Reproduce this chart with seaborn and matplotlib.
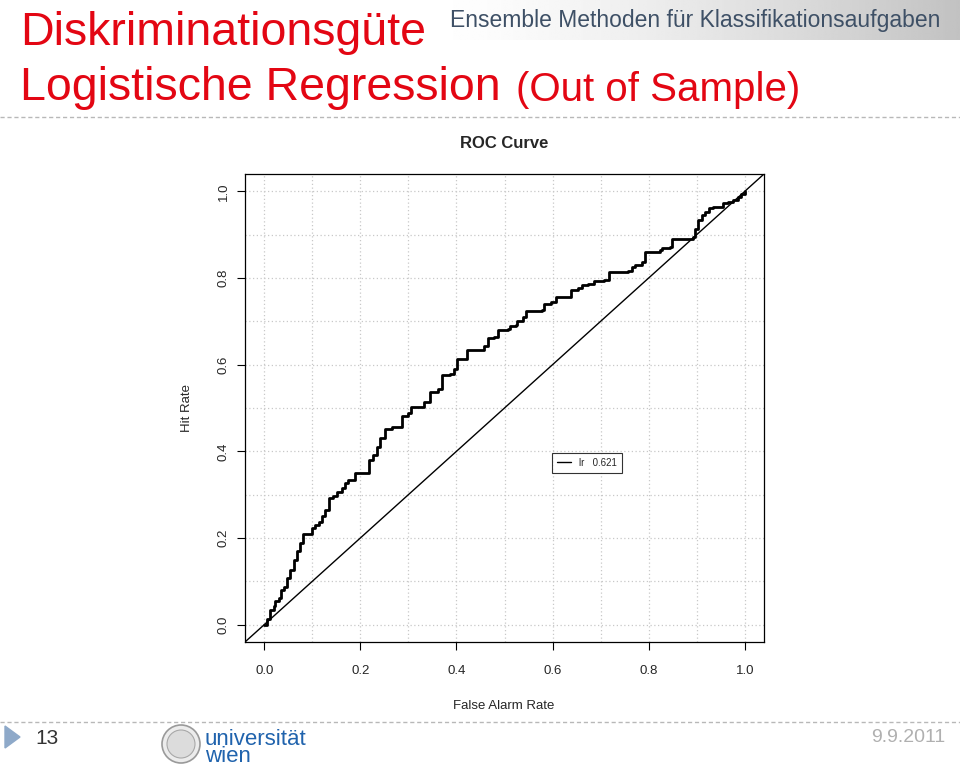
import matplotlib
matplotlib.use("Agg")
import matplotlib.pyplot as plt
import matplotlib.ticker as ticker
from matplotlib.lines import Line2D
from matplotlib.patches import Circle
import numpy as np
import pandas as pd
import seaborn as sns


# ROC curve of the logistic regression
false_alarm = [0.000, 0.006, 0.012, 0.020, 0.023, 0.030, 0.035, 0.041, 0.048, 0.054,
               0.061, 0.068, 0.075, 0.081, 0.093, 0.099, 0.106, 0.113, 0.120, 0.127,
               0.134, 0.144, 0.151, 0.161, 0.168, 0.175, 0.189, 0.215, 0.218, 0.227,
               0.234, 0.241, 0.251, 0.265, 0.282, 0.286, 0.300, 0.306, 0.327, 0.333,
               0.344, 0.361, 0.369, 0.386, 0.395, 0.402, 0.422, 0.448, 0.458, 0.465,
               0.479, 0.486, 0.507, 0.512, 0.524, 0.527, 0.538, 0.545, 0.579, 0.582,
               0.596, 0.607, 0.634, 0.638, 0.652, 0.662, 0.673, 0.686, 0.707, 0.717,
               0.758, 0.765, 0.772, 0.786, 0.793, 0.824, 0.828, 0.845, 0.848, 0.879,
               0.892, 0.896, 0.903, 0.910, 0.917, 0.926, 0.934, 0.955, 0.965, 0.976,
               0.986, 0.993, 1.000]
hit_rate = [0.000, 0.012, 0.035, 0.042, 0.054, 0.062, 0.081, 0.088, 0.108, 0.127,
            0.150, 0.169, 0.188, 0.209, 0.209, 0.223, 0.230, 0.238, 0.250, 0.265,
            0.292, 0.296, 0.307, 0.315, 0.326, 0.334, 0.351, 0.351, 0.380, 0.392,
            0.411, 0.430, 0.452, 0.456, 0.457, 0.482, 0.489, 0.502, 0.503, 0.515,
            0.537, 0.544, 0.576, 0.578, 0.591, 0.613, 0.635, 0.635, 0.643, 0.661,
            0.663, 0.680, 0.682, 0.689, 0.691, 0.700, 0.710, 0.724, 0.726, 0.741,
            0.745, 0.756, 0.757, 0.773, 0.776, 0.783, 0.787, 0.794, 0.795, 0.814,
            0.816, 0.826, 0.831, 0.837, 0.860, 0.864, 0.870, 0.872, 0.889, 0.891,
            0.895, 0.914, 0.933, 0.945, 0.952, 0.962, 0.965, 0.972, 0.975, 0.981,
            0.987, 0.993, 1.000]

model_name = "lr"
auc_value = "0.621"

tick_values = [0.0, 0.2, 0.4, 0.6, 0.8, 1.0]

title_line1 = "Diskriminationsgüte"
title_line2 = "Logistische Regression"
title_suffix = "(Out of Sample)"
header_text = "Ensemble Methoden für Klassifikationsaufgaben"
plot_title = "ROC Curve"
x_label = "False Alarm Rate"
y_label = "Hit Rate"
slide_number = "13"
slide_date = "9.9.2011"

red = "#e30613"

sns.set_style("white")
plt.rcParams["font.family"] = ["Liberation Sans", "DejaVu Sans"]

fig = plt.figure(figsize=(9.6, 7.68), dpi=100)

# slide background, drawn in pixel coordinates
bg = fig.add_axes([0, 0, 1, 1], zorder=0)
bg.set_xlim(0, 960)
bg.set_ylim(768, 0)
bg.axis("off")

t = np.linspace(0, 1, 300)
shade = 1 - 0.24 * t ** 1.4
bg.imshow(shade[np.newaxis, :], cmap="gray", vmin=0, vmax=1, aspect="auto",
          extent=[425, 960, 40, 0], interpolation="bilinear")
bg.text(450, 21, header_text, fontsize=16.5, color="#3e5066", va="center", ha="left")

bg.text(20, 45, title_line1, fontsize=33.5, color=red, va="baseline")
line2 = bg.text(20, 100, title_line2, fontsize=33.5, color=red, va="baseline")
bg.annotate(title_suffix, xy=(1, 0), xycoords=line2, xytext=(11, 1),
            textcoords="offset points", fontsize=29, color=red, va="bottom")

bg.plot([0, 960], [117, 117], color="#b8b8b8", lw=1, ls=(0, (3, 2)))
bg.plot([0, 960], [722, 722], color="#b8b8b8", lw=1, ls=(0, (3, 2)))

# footer
bg.fill([5, 20, 5], [726, 737, 748], color="#8ea9c9")
bg.text(35, 738, slide_number, fontsize=15, color="#333333", va="center")
bg.text(945, 738, slide_date, fontsize=14, color="#b0b0b0", va="center", ha="right")
bg.add_patch(Circle((181, 744), 19, facecolor="#ececec", edgecolor="#9a9a9a", lw=1.2))
bg.add_patch(Circle((181, 744), 14, facecolor="#dcdcdc", edgecolor="#a8a8a8", lw=0.8))
bg.text(205, 762, "universität\nwien", fontsize=16, color="#2063ad", va="baseline",
        linespacing=0.72)

# ROC plot
ax = fig.add_axes([245 / 960, 1 - 642 / 768, 519 / 960, 468 / 768], zorder=1)
ax.set_facecolor("white")

roc = pd.DataFrame({"far": false_alarm, "hit": hit_rate})
sns.lineplot(data=roc, x="far", y="hit", sort=False, estimator=None,
             color="black", lw=2, drawstyle="steps-post", ax=ax)
ax.axline((0, 0), (1, 1), color="black", lw=1)

ax.set_xlim(-0.04, 1.04)
ax.set_ylim(-0.04, 1.04)
ax.set_xticks(tick_values)
ax.set_yticks(tick_values)
ax.set_xticklabels([f"{v:.1f}" for v in tick_values])
ax.set_yticklabels([f"{v:.1f}" for v in tick_values])
ax.xaxis.set_minor_locator(ticker.MultipleLocator(0.1))
ax.yaxis.set_minor_locator(ticker.MultipleLocator(0.1))
ax.set_axisbelow(True)
ax.grid(True, which="both", color="#c8c8c8", lw=0.9, ls=(0, (1, 2)))

ax.tick_params(which="major", direction="out", length=6, width=0.8, color="black",
               labelsize=9.5, bottom=True, left=True)
ax.tick_params(which="minor", length=0)
ax.tick_params(axis="x", pad=10.5)
ax.tick_params(axis="y", pad=5, labelrotation=90)
for lbl in ax.get_yticklabels():
    lbl.set_va("center")

for sp in ax.spines.values():
    sp.set_color("black")
    sp.set_linewidth(0.9)

ax.set_xlabel(x_label, fontsize=9.5)
ax.set_ylabel(y_label, fontsize=9.5)
ax.xaxis.label.set_va("center")
ax.yaxis.label.set_va("center")
ax.xaxis.set_label_coords(0.499, -0.137)
ax.yaxis.set_label_coords(-0.112, 0.5)
ax.set_title(plot_title, fontsize=12, fontweight="bold", y=1.055, pad=0)

leg = ax.legend(handles=[Line2D([0], [0], color="black", lw=1)],
                labels=[f"{model_name}   {auc_value}"],
                loc="upper left", bbox_to_anchor=((552 - 245) / 519, (642 - 453) / 468),
                borderaxespad=0, frameon=True, fancybox=False, edgecolor="black",
                fontsize=7, handlelength=1.5, handletextpad=0.8, borderpad=0.5)
leg.get_frame().set_linewidth(0.8)

fig.savefig("out.png", dpi=100)
